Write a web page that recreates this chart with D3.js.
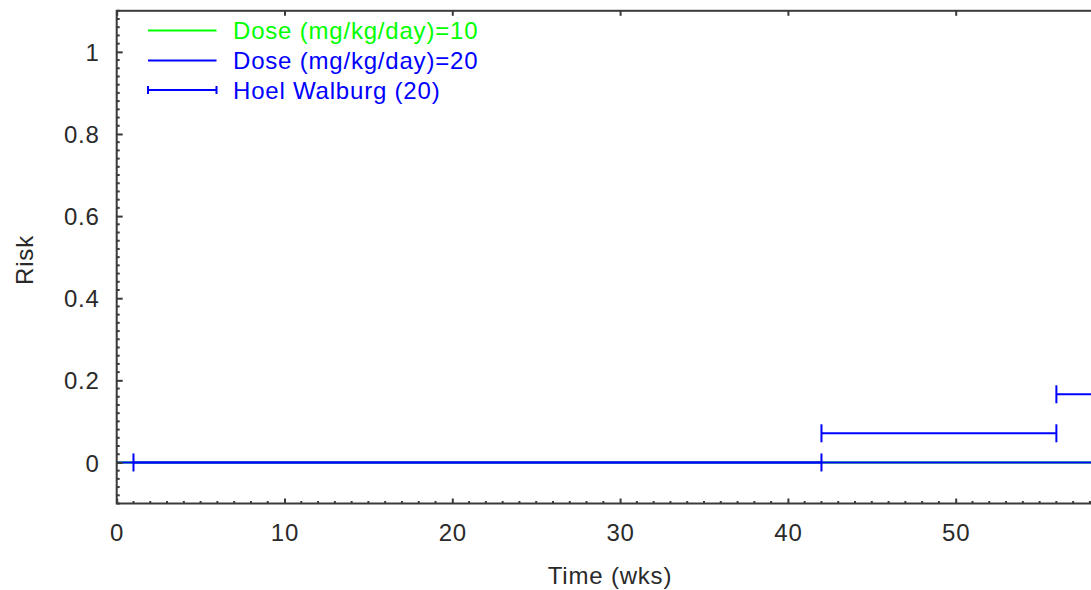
<!DOCTYPE html>
<html>
<head>
<meta charset="utf-8">
<script src="https://cdn.jsdelivr.net/npm/d3@7"></script>
<style>
html,body{margin:0;padding:0;background:#fff;overflow:hidden;width:1091px;height:590px;}
svg{display:block;}
text{font-family:"Liberation Sans",Arial,sans-serif;}
</style>
</head>
<body>
<svg id="chart" width="1200" height="590"></svg>
<script>
// ---- data ----
const dose10Times = [0, 60];
const dose10Risk  = [0, 0];
const dose20Times = [0, 60];
const dose20Risk  = [0, 0];
const hwStart = [1, 42, 56];
const hwEnd   = [42, 56, 66];
const hwRisk  = [0, 0.071, 0.166];
const xTicks = [0, 10, 20, 30, 40, 50];
const yTicks = [0, 0.2, 0.4, 0.6, 0.8, 1];
const legendLabels = ["Dose (mg/kg/day)=10", "Dose (mg/kg/day)=20", "Hoel Walburg (20)"];
const seriesColors = ["#00ff00", "#0000ff", "#0000ff"];

const svg = d3.select("#chart");
const x = d3.scaleLinear().domain([0, 60]).range([116.7, 1123.5]);
const y = d3.scaleLinear().domain([-0.1, 1.1]).range([503.5, 10.8]);

const axisColor = "#3a3a3a";
const textColor = "#2a2a2a";
const fontSize = 24;
const ls = "0.8px";

// ---- series ----
const line = d3.line().x(d => x(d[0])).y(d => y(d[1]));
svg.append("path")
  .attr("d", line(dose10Times.map((t, i) => [t, dose10Risk[i]])))
  .attr("fill", "none").attr("stroke", seriesColors[0]).attr("stroke-width", 2);
svg.append("path")
  .attr("d", line(dose20Times.map((t, i) => [t, dose20Risk[i]])))
  .attr("fill", "none").attr("stroke", seriesColors[1]).attr("stroke-width", 2);

const capH = 9;
const hw = svg.append("g").attr("stroke", seriesColors[2]).attr("stroke-width", 2);
hwRisk.forEach((r, i) => {
  hw.append("line").attr("x1", x(hwStart[i])).attr("x2", x(hwEnd[i]))
    .attr("y1", y(r)).attr("y2", y(r));
  hw.append("line").attr("x1", x(hwStart[i])).attr("x2", x(hwStart[i]))
    .attr("y1", y(r) - capH).attr("y2", y(r) + capH);
  hw.append("line").attr("x1", x(hwEnd[i])).attr("x2", x(hwEnd[i]))
    .attr("y1", y(r) - capH).attr("y2", y(r) + capH);
});

// ---- frame ----
const [x0, x1] = x.range();
const [yb, yt] = y.range();
svg.append("rect").attr("x", x0).attr("y", yt).attr("width", x1 - x0).attr("height", yb - yt)
  .attr("fill", "none").attr("stroke", axisColor).attr("stroke-width", 2);

// ---- bottom axis ----
const axB = d3.axisBottom(x).tickValues(xTicks).tickSize(-5).tickPadding(0).tickFormat(d3.format("d"));
const gB = svg.append("g").attr("transform", `translate(0,${yb})`).call(axB);
gB.select(".domain").remove();
gB.selectAll(".tick line").attr("stroke", axisColor).attr("stroke-width", 2);
gB.selectAll(".tick text").attr("fill", textColor).attr("font-size", fontSize)
  .attr("letter-spacing", ls).attr("y", 37).attr("dy", 0);
const minorX = d3.range(0, 61, 1).filter(v => v % 10 !== 0);
svg.append("g").selectAll("line").data(minorX).join("line")
  .attr("x1", d => x(d)).attr("x2", d => x(d)).attr("y1", yb).attr("y2", yb - 2.5)
  .attr("stroke", axisColor).attr("stroke-width", 2);

// ---- top axis (major only) ----
const axT = d3.axisTop(x).tickValues(xTicks).tickSize(-5).tickFormat("");
const gT = svg.append("g").attr("transform", `translate(0,${yt})`).call(axT);
gT.select(".domain").remove();
gT.selectAll(".tick line").attr("stroke", axisColor).attr("stroke-width", 2);

// ---- left axis ----
const axL = d3.axisLeft(y).tickValues(yTicks).tickSize(-6).tickPadding(17)
  .tickFormat(d => d === 0 ? "0" : d === 1 ? "1" : d3.format(".1f")(d));
const gL = svg.append("g").attr("transform", `translate(${x0},0)`).call(axL);
gL.select(".domain").remove();
gL.selectAll(".tick line").attr("stroke", axisColor).attr("stroke-width", 2);
gL.selectAll(".tick text").attr("fill", textColor).attr("font-size", fontSize)
  .attr("letter-spacing", ls).attr("dy", "0.36em");
const minorY = d3.range(-5, 56, 1).map(v => v / 50).filter(v => Math.abs(Math.round(v * 5) - v * 5) > 1e-6);
svg.append("g").selectAll("line").data(minorY).join("line")
  .attr("x1", x0).attr("x2", x0 + 3).attr("y1", d => y(d)).attr("y2", d => y(d))
  .attr("stroke", axisColor).attr("stroke-width", 2);

// ---- axis titles ----
svg.append("text").attr("x", 610).attr("y", 584).attr("text-anchor", "middle")
  .attr("font-size", fontSize).attr("letter-spacing", ls).attr("fill", textColor).text("Time (wks)");
svg.append("text").attr("transform", "translate(33,260) rotate(-90)").attr("text-anchor", "middle")
  .attr("font-size", fontSize).attr("letter-spacing", ls).attr("fill", textColor).text("Risk");

// ---- legend ----
const legY = [30.5, 60.5, 90];
const lg = svg.append("g");
legendLabels.forEach((lab, i) => {
  lg.append("line").attr("x1", 148).attr("x2", 216.5).attr("y1", legY[i]).attr("y2", legY[i])
    .attr("stroke", seriesColors[i]).attr("stroke-width", 2);
  if (i === 2) {
    [148, 216.5].forEach(cx => lg.append("line").attr("x1", cx).attr("x2", cx)
      .attr("y1", legY[i] - 4).attr("y2", legY[i] + 4).attr("stroke", seriesColors[i]).attr("stroke-width", 2));
  }
  lg.append("text").attr("x", 233).attr("y", legY[i]).attr("dy", "0.36em")
    .attr("font-size", fontSize).attr("letter-spacing", ls).attr("fill", seriesColors[i]).text(lab);
});
</script>
</body>
</html>
